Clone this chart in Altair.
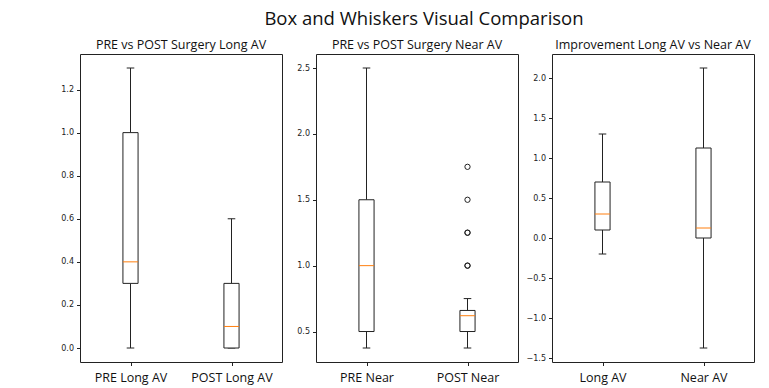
import altair as alt
import pandas as pd

MAIN_TITLE = "Box and Whiskers Visual Comparison"

# Panel 1
p1_title = "PRE vs POST Surgery Long AV"
p1_labels = ["PRE Long AV", "POST Long AV"]
p1_low = [0.0, 0.0]
p1_q1 = [0.3, 0.0]
p1_med = [0.4, 0.1]
p1_q3 = [1.0, 0.3]
p1_high = [1.3, 0.6]
p1_outliers = [[], []]
p1_ticks = [0.0, 0.2, 0.4, 0.6, 0.8, 1.0, 1.2]

# Panel 2
p2_title = "PRE vs POST Surgery Near AV"
p2_labels = ["PRE Near", "POST Near"]
p2_low = [0.375, 0.375]
p2_q1 = [0.5, 0.5]
p2_med = [1.0, 0.62]
p2_q3 = [1.5, 0.66]
p2_high = [2.5, 0.75]
p2_outliers = [[], [1.0, 1.0, 1.25, 1.25, 1.5, 1.75]]
p2_ticks = [0.5, 1.0, 1.5, 2.0, 2.5]

# Panel 3
p3_title = "Improvement Long AV vs Near AV"
p3_labels = ["Long AV", "Near AV"]
p3_low = [-0.2, -1.375]
p3_q1 = [0.1, 0.0]
p3_med = [0.3, 0.125]
p3_q3 = [0.7, 1.125]
p3_high = [1.3, 2.125]
p3_outliers = [[], []]
p3_ticks = [-1.5, -1.0, -0.5, 0.0, 0.5, 1.0, 1.5, 2.0]

LINE = "#222222"
MEDIAN = "#ff7f0e"


def panel(title, labels, low, q1, med, q3, high, outliers, ticks):
    df = pd.DataFrame({
        "pos": [1, 2], "label": labels, "low": low, "q1": q1,
        "med": med, "q3": q3, "high": high,
    })
    out_rows = [(i + 1, v) for i, vals in enumerate(outliers) for v in vals]
    odf = pd.DataFrame(out_rows, columns=["pos", "value"]) if out_rows else pd.DataFrame({"pos": [], "value": []})

    allv = low + high + [v for vals in outliers for v in vals]
    lo, hi = min(allv), max(allv)
    m = 0.05 * (hi - lo)
    xs = alt.Scale(domain=[0.5, 2.5], nice=False, zero=False)
    ys = alt.Scale(domain=[lo - m, hi + m], nice=False, zero=False)

    expr = f"datum.value == 1 ? '{labels[0]}' : '{labels[1]}'"
    xaxis = alt.Axis(values=[1, 2], labelExpr=expr, title=None, grid=False, domain=False,
                     tickSize=3.5, tickColor=LINE, labelFont="Open Sans", labelFontSize=12.5,
                     labelColor="#111", labelPadding=6, labelAngle=0)
    yaxis = alt.Axis(values=ticks, format=".1f", title=None, grid=False, domain=False,
                     tickSize=3.5, tickColor=LINE, labelFont="DejaVu Sans", labelFontSize=8,
                     labelColor="#222", labelPadding=3, minExtent=26)

    base = alt.Chart(df).transform_calculate(
        xl="datum.pos - 0.075", xr="datum.pos + 0.075",
        cl="datum.pos - 0.0375", cr="datum.pos + 0.0375",
    )

    w_lo = base.mark_rule(color=LINE, strokeWidth=1).encode(
        x=alt.X("pos:Q", scale=xs, axis=xaxis),
        y=alt.Y("low:Q", scale=ys, axis=yaxis), y2="q1:Q")
    w_hi = base.mark_rule(color=LINE, strokeWidth=1).encode(
        x=alt.X("pos:Q", scale=xs, axis=xaxis),
        y=alt.Y("q3:Q", scale=ys, axis=yaxis), y2="high:Q")
    c_lo = base.mark_rule(color=LINE, strokeWidth=1).encode(
        x=alt.X("cl:Q", scale=xs, axis=xaxis), x2="cr:Q",
        y=alt.Y("low:Q", scale=ys, axis=yaxis))
    c_hi = base.mark_rule(color=LINE, strokeWidth=1).encode(
        x=alt.X("cl:Q", scale=xs, axis=xaxis), x2="cr:Q",
        y=alt.Y("high:Q", scale=ys, axis=yaxis))
    box = base.mark_rect(fill="white", stroke=LINE, strokeWidth=1).encode(
        x=alt.X("xl:Q", scale=xs, axis=xaxis), x2="xr:Q",
        y=alt.Y("q1:Q", scale=ys, axis=yaxis), y2="q3:Q")
    med_l = base.mark_rule(color=MEDIAN, strokeWidth=1).encode(
        x=alt.X("xl:Q", scale=xs, axis=xaxis), x2="xr:Q",
        y=alt.Y("med:Q", scale=ys, axis=yaxis))
    layers = [w_lo, w_hi, c_lo, c_hi, box, med_l]
    if out_rows:
        pts = alt.Chart(odf).mark_point(shape="circle", filled=False, color=LINE,
                                        size=28, strokeWidth=1, opacity=1).encode(
            x=alt.X("pos:Q", scale=xs, axis=xaxis),
            y=alt.Y("value:Q", scale=ys, axis=yaxis))
        layers.append(pts)

    return alt.layer(*layers).properties(
        width=202, height=308,
        title=alt.TitleParams(title, font="Open Sans", fontSize=12.5, fontWeight="normal",
                              color="#111", anchor="middle", offset=2.5),
    )


chart = alt.hconcat(
    panel(p1_title, p1_labels, p1_low, p1_q1, p1_med, p1_q3, p1_high, p1_outliers, p1_ticks),
    panel(p2_title, p2_labels, p2_low, p2_q1, p2_med, p2_q3, p2_high, p2_outliers, p2_ticks),
    panel(p3_title, p3_labels, p3_low, p3_q1, p3_med, p3_q3, p3_high, p3_outliers, p3_ticks),
    spacing=6,
).properties(
    title=alt.TitleParams(MAIN_TITLE, font="Open Sans", fontSize=18.5, fontWeight="normal",
                          color="#111", anchor="middle", dx=20, offset=10),
    padding={"left": 45, "top": 2, "right": 5, "bottom": 0},
).configure_view(stroke=LINE, strokeWidth=1)

chart.save("out.html", embed_options={"renderer": "svg", "actions": False})
